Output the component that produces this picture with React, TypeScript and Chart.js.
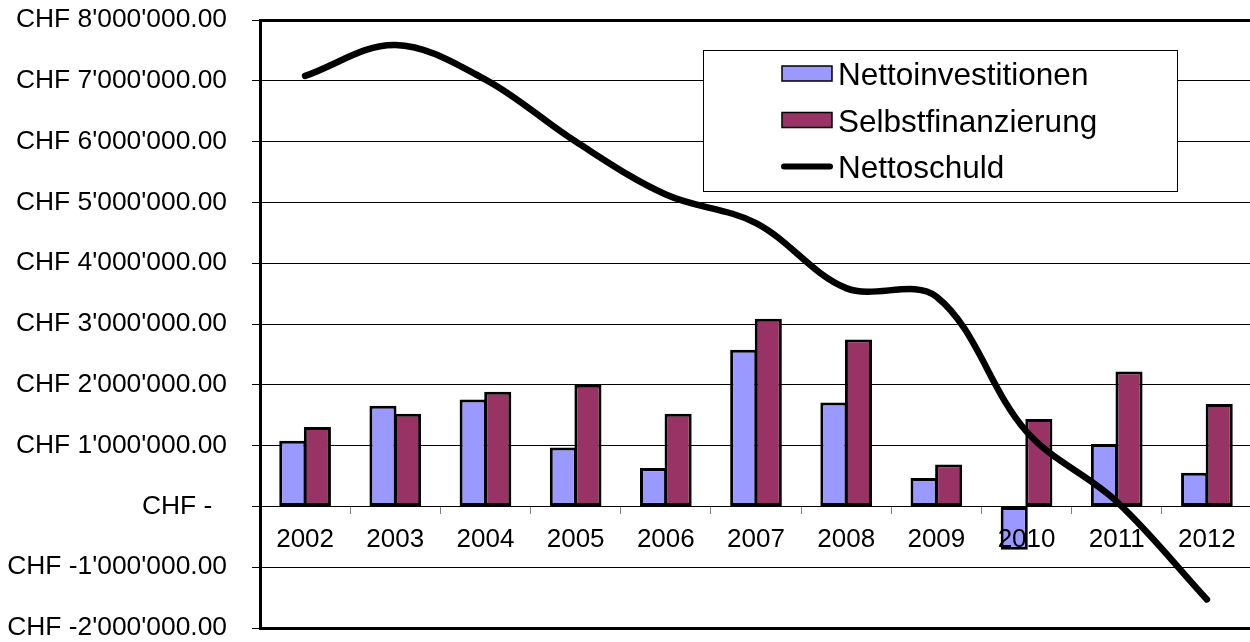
import React, { useEffect, useRef } from "react";
import { Chart, registerables } from "chart.js";

Chart.register(...registerables);

// Years on the category axis
const years = ["2002", "2003", "2004", "2005", "2006", "2007", "2008", "2009", "2010", "2011", "2012"];

// Values in CHF
const nettoinvestitionen = [1080000, 1656000, 1760000, 970000, 630000, 2577000, 1710000, 467000, -712000, 1026000, 554000];
const selbstfinanzierung = [1306000, 1525000, 1886000, 2000000, 1525000, 3087000, 2747000, 690000, 1437000, 2220000, 1684000];
const nettoschuld = [7080000, 7590000, 7020000, 6000000, 5130000, 4660000, 3590000, 3450000, 1230000, 80000, -1530000];

// Value axis range
const yMin = -2000000;
const yMax = 8000000;
const yStep = 1000000;

const FONT = "'Liberation Sans', Arial, Helvetica, sans-serif";

function formatChf(v: number): string {
  if (v === 0) return "CHF -  ";
  const abs = Math.round(Math.abs(v));
  const grouped = abs.toString().replace(/\B(?=(\d{3})+(?!\d))/g, "'");
  return `CHF ${v < 0 ? "-" : ""}${grouped}.00`;
}

// Framed legend drawn inside the plot area
const boxLegend = {
  id: "boxLegend",
  afterDraw(chart: any) {
    const ctx: CanvasRenderingContext2D = chart.ctx;
    const x0 = 703.5;
    const y0 = 50.5;
    const w = 474;
    const h = 141;
    ctx.save();
    ctx.fillStyle = "#ffffff";
    ctx.fillRect(x0, y0, w, h);
    ctx.strokeStyle = "#000000";
    ctx.lineWidth = 1;
    ctx.strokeRect(x0, y0, w, h);

    const symX = 782;
    const symW = 50;
    const textX = 838;
    const baselines = [85, 131.5, 178];
    ctx.font = `31.5px ${FONT}`;
    ctx.textBaseline = "alphabetic";
    ctx.textAlign = "left";
    chart.data.datasets.forEach((ds: any, i: number) => {
      const base = baselines[i];
      const mid = base - 11.5;
      if (ds.type === "line") {
        ctx.strokeStyle = ds.borderColor;
        ctx.lineWidth = 6;
        ctx.lineCap = "round";
        ctx.beginPath();
        ctx.moveTo(symX + 2, mid);
        ctx.lineTo(symX + symW - 2, mid);
        ctx.stroke();
      } else {
        ctx.fillStyle = ds.backgroundColor;
        ctx.fillRect(symX, mid - 7.5, symW, 15);
        ctx.strokeStyle = "#000000";
        ctx.lineWidth = 1.5;
        ctx.strokeRect(symX, mid - 7.5, symW, 15);
      }
      ctx.fillStyle = "#000000";
      ctx.fillText(ds.label, textX, base);
    });
    ctx.restore();
  },
};

export default function App() {
  const canvasRef = useRef<HTMLCanvasElement | null>(null);

  useEffect(() => {
    const canvas = canvasRef.current;
    if (!canvas) return;

    const chart = new Chart(canvas, {
      type: "bar",
      data: {
        labels: years,
        datasets: [
          {
            type: "bar",
            label: "Nettoinvestitionen",
            data: nettoinvestitionen,
            backgroundColor: "#9999FF",
            borderColor: "#000000",
            borderWidth: 3,
            borderSkipped: false,
            barPercentage: 1.1016,
            categoryPercentage: 0.5455,
            order: 1,
          },
          {
            type: "bar",
            label: "Selbstfinanzierung",
            data: selbstfinanzierung,
            backgroundColor: "#993366",
            borderColor: "#000000",
            borderWidth: 3,
            borderSkipped: false,
            barPercentage: 1.1016,
            categoryPercentage: 0.5455,
            order: 1,
          },
          {
            type: "line",
            label: "Nettoschuld",
            data: nettoschuld,
            borderColor: "#000000",
            backgroundColor: "#000000",
            borderWidth: 6.5,
            borderCapStyle: "round",
            borderJoinStyle: "round",
            pointRadius: 0,
            pointHoverRadius: 0,
            tension: 0.35,
            fill: false,
            order: 0,
          },
        ] as any,
      },
      options: {
        responsive: false,
        animation: false,
        devicePixelRatio: 1,
        layout: { padding: { left: 8, top: 20, right: 0, bottom: 14 } },
        plugins: {
          legend: { display: false },
          tooltip: { enabled: false },
        },
        scales: {
          x: {
            position: { y: 0 } as any,
            grid: {
              display: true,
              drawOnChartArea: false,
              drawTicks: true,
              tickLength: 7,
              color: "#808080",
              lineWidth: 1,
            },
            border: { display: true, color: "#000000", width: 1 },
            ticks: {
              z: 1,
              color: "#000000",
              font: { family: FONT, size: 26, lineHeight: 1.0 },
              padding: 13,
              maxRotation: 0,
              autoSkip: false,
            },
          },
          y: {
            min: yMin,
            max: yMax,
            grid: {
              color: "#000000",
              lineWidth: (ctx: any) =>
                ctx.tick && (ctx.tick.value === yMax || ctx.tick.value === yMin) ? 3 : 1,
              tickLength: 8,
              tickWidth: 1,
              tickColor: "#000000",
            },
            border: { display: true, color: "#000000", width: 3 },
            ticks: {
              stepSize: yStep,
              color: "#000000",
              font: { family: FONT, size: 26.4, lineHeight: 1.0 },
              padding: 25,
              callback: (value: any) => formatChf(Number(value)),
            },
            afterFit(scale: any) {
              scale.width = 252;
              scale.paddingTop = 0;
              scale.paddingBottom = 0;
            },
          },
        },
      },
      plugins: [boxLegend],
    });

    return () => {
      chart.destroy();
    };
  }, []);

  return (
    <div
      style={{
        position: "absolute",
        left: 0,
        top: 0,
        width: 1250,
        height: 642,
        overflow: "hidden",
        background: "#ffffff",
      }}
    >
      <canvas ref={canvasRef} width={1252} height={642} style={{ width: 1252, height: 642, display: "block" }} />
    </div>
  );
}
